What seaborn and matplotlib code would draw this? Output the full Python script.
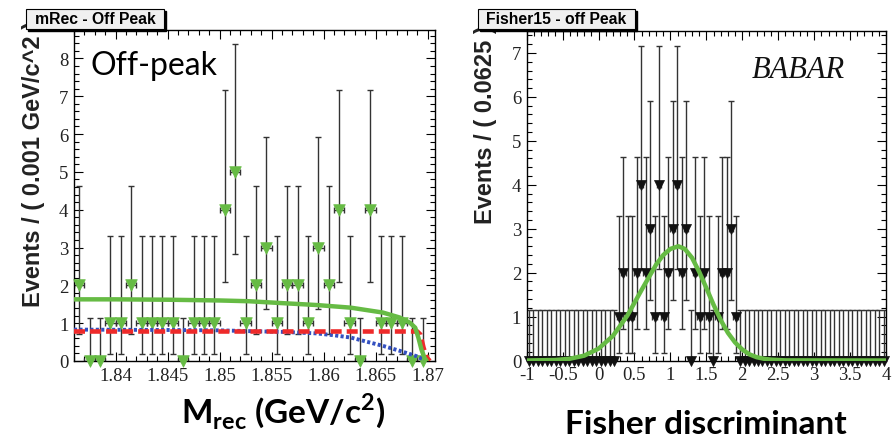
import numpy as np
import matplotlib
matplotlib.use("Agg")
import matplotlib.pyplot as plt
from matplotlib.patches import Rectangle
from matplotlib.ticker import MultipleLocator
import seaborn as sns

# ---- data ----
# mRec histogram, 34 bins of 0.001 GeV/c^2 starting at 1.836
mrec_start = 1.836
mrec_width = 0.001
mrec_counts = [2, 0, 0, 1, 1, 2, 1, 1, 1, 1, 0, 1, 1, 1, 4, 5, 1,
               2, 3, 1, 2, 2, 1, 3, 2, 4, 1, 0, 4, 1, 1, 1, 0, 0]

# Fisher histogram, 80 bins of 0.0625 starting at -1
fisher_start = -1.0
fisher_width = 0.0625
fisher_counts = ([0] * 20 +
                 [1, 2, 1, 1, 2, 4, 2, 3, 1, 4, 1, 2, 3, 4, 2, 3, 0, 2, 1, 2, 1, 0, 1, 2, 2, 3, 1] +
                 [0] * 33)

# asymmetric poisson errors (ROOT style) for n = 0..5
pois_lo = [0.0, 0.827, 1.291, 1.633, 1.914, 2.159]
pois_hi = [1.148, 2.299, 2.638, 2.918, 3.162, 3.382]

# fit curves, mRec plot
tot_x = [1.836, 1.840, 1.845, 1.850, 1.8528, 1.856, 1.8593, 1.8626, 1.8657, 1.8673,
         1.8683, 1.8688, 1.8691, 1.8694, 1.8697, 1.8699]
tot_y = [1.63, 1.63, 1.62, 1.60, 1.58, 1.53, 1.48, 1.41, 1.28, 1.15,
         1.01, 0.88, 0.62, 0.30, 0.08, 0.0]
flat_x = [1.836, 1.8690, 1.8693, 1.8696, 1.8699, 1.8702]
flat_y = [0.78, 0.78, 0.70, 0.35, 0.10, 0.0]
argus_x = [1.836, 1.845, 1.850, 1.8528, 1.856, 1.8593, 1.861, 1.8626, 1.864,
           1.8657, 1.8673, 1.8681, 1.8689, 1.8699]
argus_y = [0.83, 0.82, 0.81, 0.79, 0.77, 0.73, 0.68, 0.62, 0.52,
           0.40, 0.27, 0.20, 0.13, 0.0]

# fit curve, Fisher plot
fis_x = [-1.0, -0.6, -0.4, -0.2, 0.0, 0.2, 0.4, 0.6, 0.8, 0.9, 1.0, 1.11, 1.2, 1.3,
         1.4, 1.5, 1.6, 1.7, 1.8, 1.9, 2.0, 2.1, 2.2, 2.3, 2.4, 2.6, 4.0]
fis_y = [0.0, 0.012, 0.04, 0.11, 0.27, 0.56, 1.02, 1.61, 2.18, 2.40, 2.54, 2.60, 2.54, 2.34,
         2.02, 1.65, 1.27, 0.92, 0.63, 0.41, 0.25, 0.14, 0.075, 0.04, 0.02, 0.003, 0.0]

mrec_ticks = [1.84, 1.845, 1.85, 1.855, 1.86, 1.865, 1.87]
mrec_ticklabels = ["1.84", "1.845", "1.85", "1.855", "1.86", "1.865", "1.87"]
fis_ticks = [-1, -0.5, 0, 0.5, 1, 1.5, 2, 2.5, 3, 3.5, 4]
fis_ticklabels = ["-1", "-0.5", "0", "0.5", "1", "1.5", "2", "2.5", "3", "3.5", "4"]

green = "#66bb44"
W, H = 896, 439
SANS = ["Liberation Sans", "DejaVu Sans"]

sns.set_theme(style="ticks")
# tick labels in ROOT's Times-like font; all other texts name their family
plt.rcParams["font.family"] = ["Liberation Serif", "DejaVu Serif"]
plt.rcParams["mathtext.fontset"] = "custom"
plt.rcParams["mathtext.rm"] = "Lato"
plt.rcParams["mathtext.bf"] = "Lato:bold"


def fx(x):
    return x / W


def fy(y):
    return 1 - y / H


def style_axes(ax):
    for s in ax.spines.values():
        s.set_color("black")
        s.set_linewidth(1.0)
    ax.tick_params(which="both", direction="in", top=True, right=True,
                   colors="black", labelcolor="#222222", labelsize=13.5)
    ax.tick_params(which="major", length=6.5, width=0.8, pad=4)
    ax.tick_params(which="minor", length=3.3, width=0.8)
    ax.set_xlabel("")
    ax.set_ylabel("")


def hist_points(ax, start, width, counts, mcolor, msize):
    counts = np.array(counts)
    centers = start + width * (np.arange(len(counts)) + 0.5)
    lo = np.array(pois_lo)[counts]
    hi = np.array(pois_hi)[counts]
    ax.errorbar(centers, counts, yerr=[lo, hi], xerr=width / 2, fmt="none",
                ecolor="#333333", elinewidth=1.0, capsize=2.2, capthick=1.0, zorder=2)
    sns.scatterplot(x=centers, y=counts, marker="v", s=msize, color=mcolor,
                    edgecolor=mcolor, linewidth=0.5, ax=ax, zorder=3, clip_on=False)


fig = plt.figure(figsize=(W / 100, H / 100), dpi=100)

# ---- left: mRec ----
ax1 = fig.add_axes([fx(74), fy(362), (435 - 74) / W, (362 - 31) / H])
hist_points(ax1, mrec_start, mrec_width, mrec_counts, green, 70)
sns.lineplot(x=argus_x, y=argus_y, ax=ax1, color="#3350c0", lw=2.8,
             linestyle=(0, (0.8, 0.6)), sort=False, errorbar=None, zorder=4)
sns.lineplot(x=flat_x, y=flat_y, ax=ax1, color="#ee2a2a", lw=3.3,
             linestyle=(0, (2.4, 1.1)), sort=False, errorbar=None, zorder=4)
sns.lineplot(x=tot_x, y=tot_y, ax=ax1, color=green, lw=3.2, sort=False,
             errorbar=None, zorder=5)
ax1.set_xlim(1.836, 1.8707)
ax1.set_ylim(0, 8.75)
ax1.set_xticks(mrec_ticks)
ax1.set_xticklabels(mrec_ticklabels)
ax1.xaxis.set_minor_locator(MultipleLocator(0.001))
ax1.set_yticks(range(9))
ax1.yaxis.set_minor_locator(MultipleLocator(0.2))
style_axes(ax1)
fig.text(fx(90), fy(75), "Off-peak", fontfamily="Lato", fontsize=23,
         color="black", ha="left", va="baseline")

# ---- right: Fisher ----
ax2 = fig.add_axes([fx(526.7), fy(361.5), (886 - 526.7) / W, (361.5 - 32) / H])
hist_points(ax2, fisher_start, fisher_width, fisher_counts, "#111111", 52)
sns.lineplot(x=fis_x, y=fis_y, ax=ax2, color=green, lw=3.2, sort=False,
             errorbar=None, zorder=5)
ax2.set_xlim(-1, 4)
ax2.set_ylim(0, 7.5)
ax2.set_xticks(fis_ticks)
ax2.set_xticklabels(fis_ticklabels)
ax2.xaxis.set_minor_locator(MultipleLocator(0.1))
ax2.set_yticks(range(8))
ax2.yaxis.set_minor_locator(MultipleLocator(0.2))
style_axes(ax2)
fig.text(fx(752), fy(78), "BABAR", fontfamily="Liberation Serif", style="italic",
         fontsize=22, color="#111111", ha="left", va="baseline")

# ---- axis titles ----
fig.text(fx(40), fy(21), "Events / ( 0.001 GeV/c^2 )", rotation=90,
         rotation_mode="anchor", ha="right", va="baseline", fontsize=17,
         fontweight="bold", color="#222222", family=SANS)
fig.text(fx(492), fy(25), "Events / ( 0.0625 )", rotation=90,
         rotation_mode="anchor", ha="right", va="baseline", fontsize=17,
         fontweight="bold", color="#222222", family=SANS)

fig.text(fx(283), fy(423), r"M$_{\mathbf{rec}}$ (GeV/c$^{\mathbf{2}}$)",
         fontfamily="Lato", fontweight="bold", fontsize=24, ha="center",
         va="baseline", color="black")
fig.text(fx(706), fy(434), "Fisher discriminant", fontfamily="Lato",
         fontweight="bold", fontsize=24, ha="center", va="baseline", color="black")


# ---- ROOT style title boxes ----
def title_box(x0, y0, x1, y1, label):
    fig.add_artist(Rectangle((fx(x0 + 2), fy(y1 + 2)), (x1 - x0) / W, (y1 - y0) / H,
                             transform=fig.transFigure, facecolor="black",
                             edgecolor="black", zorder=10))
    fig.add_artist(Rectangle((fx(x0), fy(y1)), (x1 - x0) / W, (y1 - y0) / H,
                             transform=fig.transFigure, facecolor="#f0f0f0",
                             edgecolor="black", lw=0.8, zorder=11))
    fig.text(fx((x0 + x1) / 2), fy((y0 + y1) / 2), label, ha="center", va="center",
             fontsize=11.3, fontweight="bold", color="black", zorder=12, family=SANS)


title_box(26, 10, 164, 30, "mRec - Off Peak")
title_box(478, 10, 635, 30, "Fisher15 - off Peak")

fig.savefig("out.png", dpi=100)
